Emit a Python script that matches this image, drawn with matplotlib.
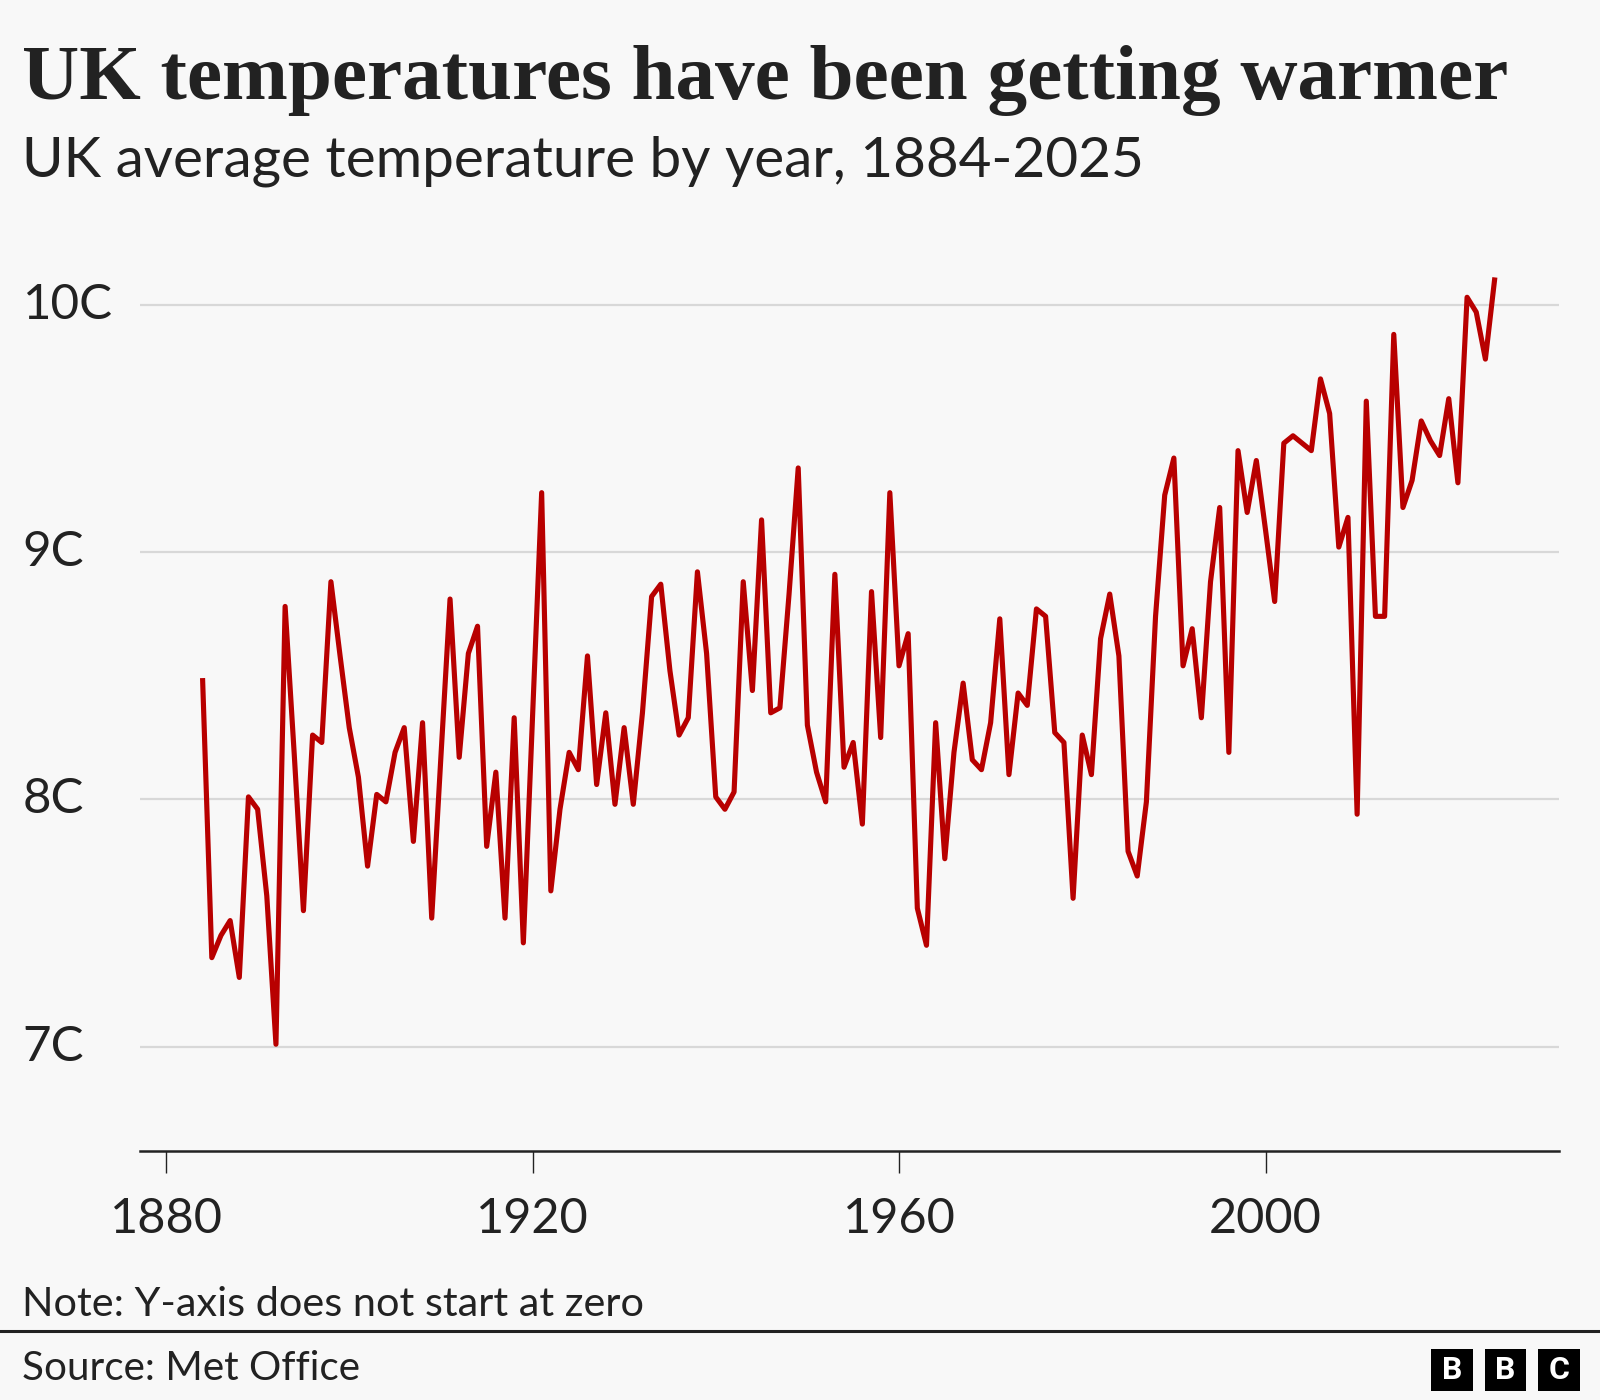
import matplotlib
matplotlib.use("Agg")
import matplotlib.pyplot as plt
from matplotlib.transforms import blended_transform_factory
from matplotlib.patches import Rectangle
from matplotlib.lines import Line2D

# ---- data ----
years = list(range(1884, 2026))
temps = [
    8.48, 7.36, 7.45, 7.51, 7.28, 8.01,                     # 1884-1889
    7.96, 7.61, 7.01, 8.78, 8.18, 7.55, 8.26, 8.23, 8.88, 8.58,  # 1890s
    8.29, 8.09, 7.73, 8.02, 7.99, 8.19, 8.29, 7.83, 8.31, 7.52,  # 1900s
    8.17, 8.81, 8.17, 8.59, 8.70, 7.81, 8.11, 7.52, 8.33, 7.42,  # 1910s
    8.33, 9.24, 7.63, 7.96, 8.19, 8.12, 8.58, 8.06, 8.35, 7.98,  # 1920s
    8.29, 7.98, 8.35, 8.82, 8.87, 8.52, 8.26, 8.33, 8.92, 8.59,  # 1930s
    8.01, 7.96, 8.03, 8.88, 8.44, 9.13, 8.35, 8.37, 8.83, 9.34,  # 1940s
    8.30, 8.11, 7.99, 8.91, 8.13, 8.23, 7.90, 8.84, 8.25, 9.24,  # 1950s
    8.54, 8.67, 7.56, 7.41, 8.31, 7.76, 8.19, 8.47, 8.16, 8.12,  # 1960s
    8.31, 8.73, 8.10, 8.43, 8.38, 8.77, 8.74, 8.27, 8.23, 7.60,  # 1970s
    8.26, 8.10, 8.65, 8.83, 8.58, 7.79, 7.69, 7.99, 8.74, 9.23,  # 1980s
    9.38, 8.54, 8.69, 8.33, 8.88, 9.18, 8.19, 9.41, 9.16, 9.37,  # 1990s
    9.09, 8.80, 9.44, 9.47, 9.44, 9.41, 9.70, 9.56, 9.02, 9.14,  # 2000s
    7.94, 9.61, 8.74, 8.74, 9.88, 9.18, 9.29, 9.53, 9.45, 9.39,  # 2010s
    9.62, 9.28, 10.03, 9.97, 9.78, 10.10,                   # 2020-2025
]
y_ticks = [7, 8, 9, 10]
y_tick_labels = ["7C", "8C", "9C", "10C"]
x_ticks = [1880, 1920, 1960, 2000]
x_tick_labels = ["1880", "1920", "1960", "2000"]

title = "UK temperatures have been getting warmer"
subtitle = "UK average temperature by year, 1884-2025"
note = "Note: Y-axis does not start at zero"
source = "Source: Met Office"

# ---- style ----
W, H = 1600, 1400
BG = "#f8f8f8"
RED = "#b80000"
DARK = "#222222"
GRID = "#d8d8d8"
SANS = ["Lato", "DejaVu Sans"]
SERIF = ["Liberation Serif", "DejaVu Serif"]

fig = plt.figure(figsize=(W / 100, H / 100), dpi=100)
fig.patch.set_facecolor(BG)


def fx(px):
    return px / W


def fy(py):
    return 1 - py / H


ax_left, ax_right, ax_top, ax_bottom = 140, 1559, 243, 1151
ax = fig.add_axes([fx(ax_left), fy(ax_bottom), (ax_right - ax_left) / W, (ax_bottom - ax_top) / H])
ax.set_facecolor(BG)

px_per_year = (1265.5 - 166) / 120.0
ax.set_xlim(1880 - (166 - ax_left) / px_per_year, 1880 + (ax_right - 166) / px_per_year)
px_per_deg = (1046.7 - 304.7) / 3.0
ax.set_ylim(7 - (ax_bottom - 1046.7) / px_per_deg, 7 + (1046.7 - ax_top) / px_per_deg)

for v in y_ticks:
    ax.axhline(v, color=GRID, lw=1.6, zorder=1)

ax.plot(years, temps, color=RED, lw=3.7, zorder=3, solid_joinstyle="round")

for s in ["left", "right", "top"]:
    ax.spines[s].set_visible(False)
ax.spines["bottom"].set_color(DARK)
ax.spines["bottom"].set_linewidth(1.8)

ax.set_yticks([])
ax.set_xticks(x_ticks)
ax.set_xticklabels(x_tick_labels, fontfamily=SANS, fontsize=35, color=DARK)
ax.tick_params(axis="x", length=16, width=1.0, color=DARK, pad=17)

trans = blended_transform_factory(fig.transFigure, ax.transData)
for v, lab in zip(y_ticks, y_tick_labels):
    ax.text(fx(22.5), v, lab, transform=trans, ha="left", va="center",
            fontfamily=SANS, fontsize=35.5, color=DARK)

renderer = fig.canvas.get_renderer()


def fit(t, target_w):
    for _ in range(3):
        w = t.get_window_extent(renderer).width
        t.set_fontsize(t.get_fontsize() * target_w / w)


t1 = fig.text(fx(22.5), fy(99), title, ha="left", va="baseline", fontfamily=SERIF,
              fontweight="bold", fontsize=50, color=DARK)
fit(t1, 1486)
t2 = fig.text(fx(22.5), fy(176.5), subtitle, ha="left", va="baseline", fontfamily=SANS,
              fontsize=38, color=DARK)
fit(t2, 1122)
t3 = fig.text(fx(22.5), fy(1316), note, ha="left", va="baseline", fontfamily=SANS,
              fontsize=27, color=DARK)
fit(t3, 623)
t4 = fig.text(fx(22.5), fy(1380), source, ha="left", va="baseline", fontfamily=SANS,
              fontsize=27, color=DARK)
fit(t4, 338)

# separator line
fig.add_artist(Line2D([0, 1], [fy(1331), fy(1331)], color=DARK, lw=2.2, transform=fig.transFigure))

# BBC logo
sq = 41.5
for x0, letter in zip([1431, 1484.5, 1538], ["B", "B", "C"]):
    fig.add_artist(Rectangle((fx(x0), fy(1349 + sq)), sq / W, sq / H, transform=fig.transFigure,
                             facecolor="black", edgecolor="none"))
    fig.text(fx(x0 + sq / 2), fy(1349 + sq / 2), letter, ha="center", va="center",
             fontfamily=["Roboto", "DejaVu Sans"], fontweight="bold", fontsize=23, color="white")

fig.savefig("out.png", dpi=100, facecolor=BG)
